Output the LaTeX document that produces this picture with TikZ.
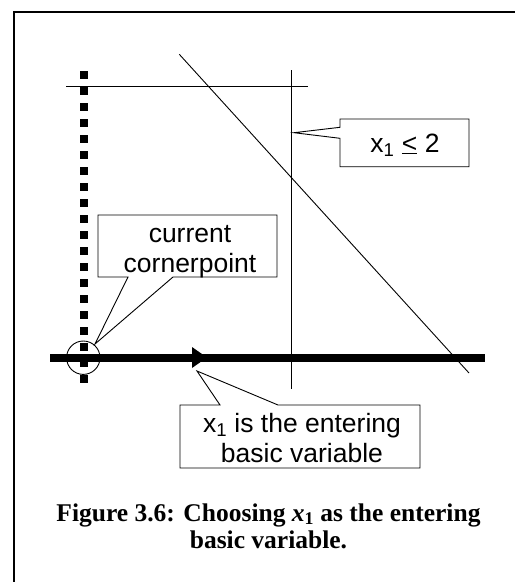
\documentclass[tikz,border=0pt]{standalone}
\usepackage{fontspec}
\setmainfont{Liberation Serif}
\newfontfamily\arialf{Liberation Sans}
\usetikzlibrary{calc}
\begin{document}
\begin{tikzpicture}[x=1pt,y=-1pt,
  thinline/.style={line width=0.9pt},
  boxnode/.style={draw=none, inner sep=0pt, outer sep=0pt},
  outline/.style={line width=0.9pt, line join=miter, fill=white},
  lbl/.style={font=\arialf\fontsize{26.5}{29.5}\selectfont, inner sep=0pt, align=center},
  capt/.style={font=\bfseries\fontsize{25.5}{27}\selectfont, inner sep=0pt, align=center}
  ]
\useasboundingbox (0,0) rectangle (515,582);
% frame
\draw[line width=1.7pt] (14,582) -- (14,12) -- (515,12);
% dotted axis
\draw[line width=7.5pt, dash pattern=on 7.5pt off 8.5pt] (84,71) -- (84,383);
% constraint lines
\draw[thinline] (66,86.7) -- (307.7,86.7);
\draw[thinline] (291,70) -- (291,389);
\draw[thinline] (179.3,54.3) -- (469,373);
% thick x1 axis with arrow
\draw[line width=8pt] (50,357.5) -- (485,357.5);
\fill (192,347) -- (207,357.5) -- (192,368) -- cycle;
% circle at current cornerpoint
\draw[thinline] (83.3,357.7) circle[radius=16.7pt];

% callout A: x1 <= 2
\node[boxnode, minimum width=129pt, minimum height=47.7pt] (ba) at (404.5,142.85) {};
\coordinate (tipa) at (294,132.7);
\draw[outline] (ba.north west) -- (ba.north east) -- (ba.south east) -- (ba.south west)
  -- ($(ba.north west)+(0,19.3)$) -- (tipa) -- ($(ba.north west)+(0,8.3)$) -- cycle;
\node[lbl, anchor=base] (ta) at (405,152) {x\textsubscript{1} \underline{<} 2};

% callout B: current cornerpoint
\node[boxnode, minimum width=179pt, minimum height=62pt] (bb) at (187.5,246) {};
\coordinate (tipb) at (95,344);
\draw[outline] (bb.north west) -- (bb.north east) -- (bb.south east)
  -- ($(bb.south west)+(75,0)$) -- (tipb) -- ($(bb.south west)+(30,0)$) -- (bb.south west) -- cycle;
\node[lbl, anchor=base] (tb) at (190,272) {current\\cornerpoint};

% callout C: x1 is the entering basic variable
\node[boxnode, minimum width=240pt, minimum height=63pt] (bc) at (300,436.5) {};
\coordinate (tipc) at (197,371);
\draw[outline] (bc.north west) -- ($(bc.north west)+(40,0)$) -- (tipc) -- ($(bc.north west)+(98,0)$)
  -- (bc.north east) -- (bc.south east) -- (bc.south west) -- cycle;
\node[lbl, anchor=base] (tc) at (302,462) {x\textsubscript{1} is the entering\\basic variable};

% caption
\node[capt, anchor=base] (cap) at (268.5,548) {Figure 3.6: Choosing \textit{x}\textsubscript{1} as the entering\\basic variable.};
\end{tikzpicture}
\end{document}
